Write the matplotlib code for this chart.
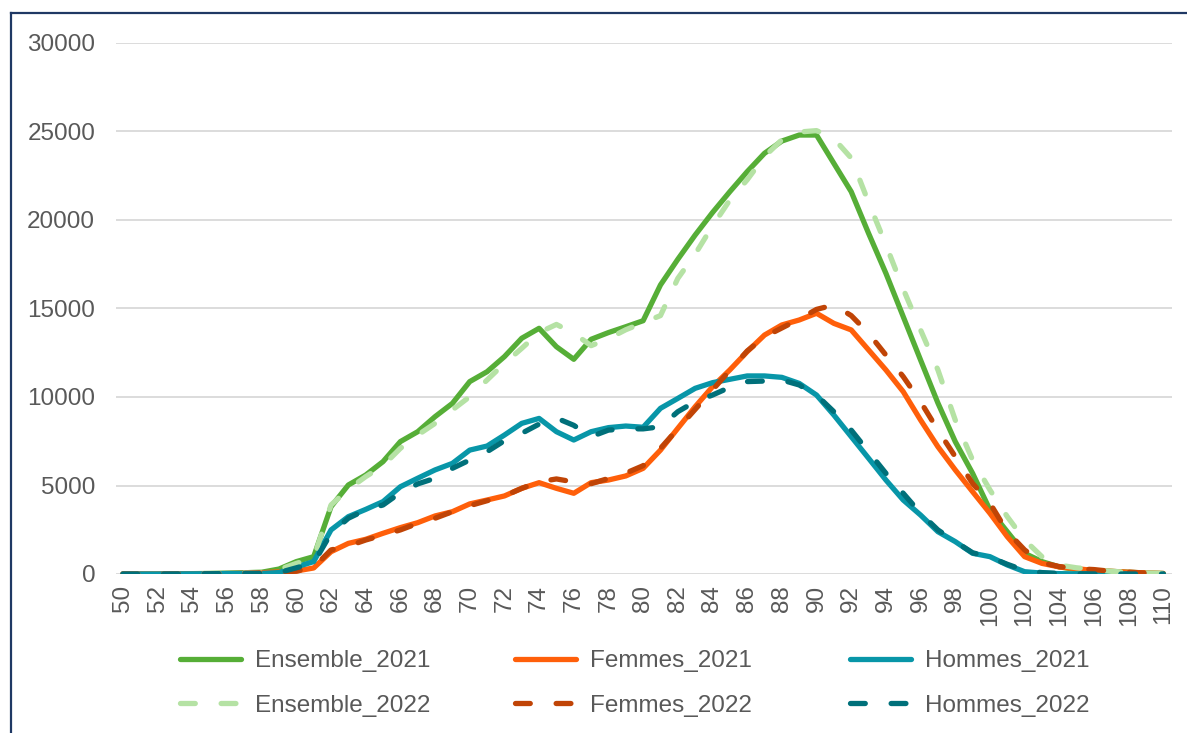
import matplotlib.pyplot as plt
import numpy as np
from matplotlib.lines import Line2D

plt.rcParams['font.family'] = ['Liberation Sans', 'DejaVu Sans']

ages = list(range(50, 111))

ensemble_2021 = [0, 0, 0, 10, 20, 30, 50, 70, 100, 280, 700, 980,
                 3800, 5030, 5590, 6350, 7480, 8040, 8890, 9640, 10870, 11430,
                 12280, 13320, 13880, 12840, 12130, 13260, 13640, 13970, 14310,
                 16330, 17780, 19150, 20420, 21600, 22730, 23770, 24460, 24800,
                 24800, 23200, 21600, 19250, 16990, 14540, 12090, 9660, 7480,
                 5690, 3620, 2390, 1170, 700, 400, 250, 200, 150, 100, 60, 30]
ensemble_2022 = [0, 0, 0, 10, 20, 30, 50, 70, 100, 250, 600, 900,
                 3900, 4790, 5500, 6120, 7100, 7850, 8510, 9270, 10020, 10960,
                 11900, 12750, 13640, 14100, 13600, 12900, 13300, 13800, 14200,
                 14600, 16700, 18070, 19660, 21130, 22270, 23590, 24530, 24970,
                 25050, 24600, 23500, 21000, 18600, 16100, 13790, 11530, 8700,
                 6440, 4750, 3240, 1920, 980, 500, 350, 250, 150, 100, 60, 30]
femmes_2021 = [0, 0, 0, 5, 10, 15, 25, 40, 70, 120, 170, 340,
               1260, 1730, 1960, 2300, 2620, 2900, 3280, 3520, 3960, 4180,
               4410, 4840, 5160, 4840, 4560, 5160, 5310, 5540, 5970,
               7000, 8230, 9450, 10580, 11530, 12560, 13500, 14070, 14350,
               14730, 14160, 13790, 12660, 11530, 10300, 8700, 7190, 5880,
               4650, 3430, 2110, 980, 600, 400, 300, 200, 150, 100, 60, 30]
femmes_2022 = [0, 0, 0, 5, 10, 15, 25, 40, 70, 110, 160, 380,
               1360, 1580, 1920, 2200, 2490, 2860, 3150, 3520, 3860, 4140,
               4410, 4840, 5210, 5370, 5200, 5100, 5400, 5700, 6120,
               7100, 8200, 9300, 10400, 11500, 12600, 13400, 13900, 14400,
               14950, 15200, 14600, 13600, 12370, 11150, 9730, 8130, 6630,
               5120, 4000, 2390, 1360, 640, 420, 300, 250, 150, 100, 50, 20]
hommes_2021 = [0, 0, 0, 5, 10, 15, 25, 30, 30, 80, 400, 700,
               2490, 3240, 3650, 4090, 4930, 5410, 5880, 6250, 7000, 7230,
               7850, 8510, 8790, 8040, 7570, 8040, 8270, 8360, 8290,
               9360, 9920, 10490, 10810, 11000, 11190, 11190, 11110, 10770,
               10110, 8980, 7760, 6540, 5310, 4180, 3330, 2390, 1830,
               1170, 980, 510, 130, 50, 20, 10, 5, 0, 0, 0, 0]
hommes_2022 = [0, 0, 0, 5, 10, 15, 25, 30, 30, 80, 350, 620,
               2300, 3150, 3620, 3900, 4600, 5090, 5410, 5970, 6440, 6910,
               7530, 7950, 8470, 8810, 8400, 7760, 8130, 8200, 8200,
               8320, 9170, 9740, 10110, 10550, 10870, 10900, 10960, 10680,
               10110, 9170, 8130, 6910, 5690, 4560, 3430, 2490, 1830,
               1200, 950, 550, 200, 80, 30, 10, 5, 0, 0, 0, 0]

series = [
    ("Ensemble_2021", ensemble_2021, "#56AE37", "-"),
    ("Ensemble_2022", ensemble_2022, "#B5E2A4", "--"),
    ("Femmes_2021", femmes_2021, "#FF5F0A", "-"),
    ("Femmes_2022", femmes_2022, "#C04406", "--"),
    ("Hommes_2021", hommes_2021, "#0896A8", "-"),
    ("Hommes_2022", hommes_2022, "#00707A", "--"),
]

fig = plt.figure(figsize=(11.87, 7.33), dpi=100)
ax = fig.add_axes([116 / 1187, 1 - 574 / 733, (1172 - 116) / 1187, (574 - 43) / 733])

handles = []
for name, vals, col, ls in series:
    if ls == "--":
        line, = ax.plot(ages, vals, color=col, lw=3.8, dashes=(2.8, 4.9),
                        dash_capstyle='round', solid_capstyle='round', label=name, zorder=3)
    else:
        line, = ax.plot(ages, vals, color=col, lw=3.8, solid_joinstyle='round',
                        solid_capstyle='round', label=name, zorder=2)
    handles.append(line)

ax.set_xlim(49.6, 110.5)
ax.set_ylim(0, 30000)
ax.set_yticks(np.arange(0, 30001, 5000))
ax.set_xticks(np.arange(50, 111, 2))
ax.set_xticklabels([str(a) for a in range(50, 111, 2)], rotation=90)
ax.grid(axis='y', color='#D9D9D9', lw=1.3)
ax.set_axisbelow(True)
for s in ax.spines.values():
    s.set_visible(False)
ax.tick_params(axis='both', length=0, labelsize=17.5, colors='#595959')
ax.tick_params(axis='y', pad=15)
ax.tick_params(axis='x', pad=8)

# legend: one column per group, evenly spaced like Excel
col_x = [180, 515, 850]
for i, x0 in enumerate(col_x):
    leg = fig.legend(handles=handles[2 * i:2 * i + 2], loc='center left',
                     bbox_to_anchor=(x0 / 1187, 1 - 683.5 / 733), frameon=False,
                     fontsize=17.5, handlelength=2.5, handletextpad=0.6,
                     labelspacing=0.92, borderpad=0, borderaxespad=0)
    for t in leg.get_texts():
        t.set_color('#595959')

# chart border (left and top only visible)
fig.add_artist(Line2D([11 / 1187, 11 / 1187], [0, 1 - 13 / 733], color='#1F3864', lw=1.6))
fig.add_artist(Line2D([11 / 1187, 1], [1 - 13 / 733, 1 - 13 / 733], color='#1F3864', lw=1.6))

fig.savefig('out.png', dpi=100)
